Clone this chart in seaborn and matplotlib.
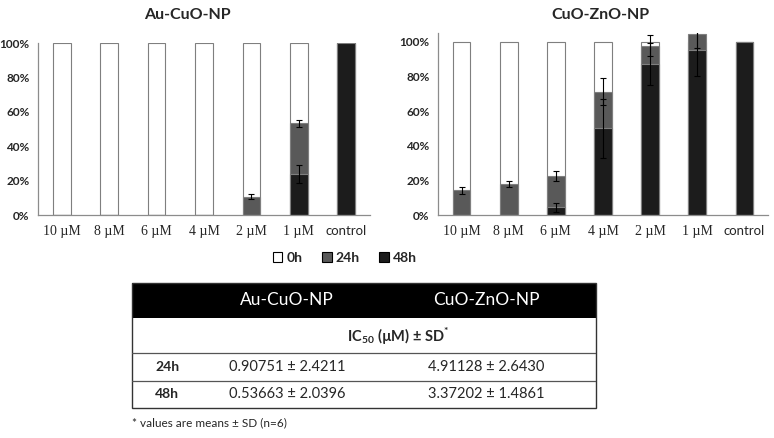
import matplotlib
matplotlib.use("Agg")
import matplotlib.pyplot as plt
from matplotlib.patches import Patch, Rectangle
from matplotlib.ticker import FuncFormatter
import numpy as np
import pandas as pd
import seaborn as sns

# concentrations on the x axis
conc = ["10 \u00b5M", "8 \u00b5M", "6 \u00b5M", "4 \u00b5M", "2 \u00b5M", "1 \u00b5M", "control"]

# Au-CuO-NP, % of cells (bars overlap, not stacked)
au_0h = [100, 100, 100, 100, 100, 100, 100]
au_24h = [0, 0, 0, 0, 10.6, 53.2, 100]
au_24h_sd = [0, 0, 0, 0, 1.5, 2.1, 0]
au_48h = [0, 0, 0, 0, 0, 23.8, 100]
au_48h_sd = [0, 0, 0, 0, 0, 5.0, 0]

# CuO-ZnO-NP
zn_0h = [100, 100, 100, 100, 100, 100, 100]
zn_24h = [14.2, 17.7, 22.5, 71.2, 97.7, 104.6, 100]
zn_24h_sd = [2.2, 1.7, 2.7, 7.6, 6.0, 8.5, 0]
zn_48h = [0, 0, 4.4, 50.0, 87.0, 95.0, 100]
zn_48h_sd = [0, 0, 2.5, 17.0, 12.0, 15.0, 0]

# IC50 table
tbl_cols = ["Au-CuO-NP", "CuO-ZnO-NP"]
tbl_rows = ["24h", "48h"]
tbl_vals = [["0.90751 \u00b1 2.4211", "4.91128 \u00b1 2.6430"],
            ["0.53663 \u00b1 2.0396", "3.37202 \u00b1 1.4861"]]

series = ["0h", "24h", "48h"]
colors = {"0h": "#ffffff", "24h": "#595959", "48h": "#1c1c1c"}

sns.set_style("white")
plt.rcParams["font.family"] = ["Lato", "DejaVu Sans"]
plt.rcParams["mathtext.fontset"] = "custom"
plt.rcParams["mathtext.rm"] = "Lato:bold"
plt.rcParams["mathtext.bf"] = "Lato:bold"

W, H = 774, 438
fig = plt.figure(figsize=(W / 100, H / 100), dpi=100)


def px(x0, y0, x1, y1):
    return [x0 / W, 1 - y1 / H, (x1 - x0) / W, (y1 - y0) / H]


def panel(ax, v0, v24, s24, v48, s48, top, title, tx):
    df = pd.DataFrame({"conc": conc, "0h": v0, "24h": v24, "48h": v48})
    for s in series:
        sns.barplot(data=df, x="conc", y=s, order=conc, ax=ax, width=0.375,
                    color=colors[s], edgecolor="#7f7f7f", linewidth=0.8,
                    saturation=1, errorbar=None)
    xs = np.arange(len(conc))
    for vals, sds in [(v24, s24), (v48, s48)]:
        vals = np.array(vals, float)
        sds = np.array(sds, float)
        m = sds > 0
        ax.errorbar(xs[m], vals[m], yerr=sds[m], fmt="none", ecolor="black",
                    elinewidth=0.8, capsize=2, capthick=0.8)
    ax.set_xlim(-0.5, len(conc) - 0.5)
    ax.set_ylim(0, top)
    ax.set_yticks([0, 20, 40, 60, 80, 100])
    ax.yaxis.set_major_formatter(FuncFormatter(lambda v, p: f"{int(v)}%"))
    ax.set_xlabel("")
    ax.set_ylabel("")
    ax.tick_params(length=0)
    ax.tick_params(axis="y", pad=6)
    ax.tick_params(axis="x", pad=7)
    for lab in ax.get_yticklabels():
        lab.set_fontweight("bold")
        lab.set_fontsize(8.5)
    for lab in ax.get_xticklabels():
        if lab.get_text() == "control":
            lab.set_fontsize(9.5)
        else:
            lab.set_family("Liberation Serif")
            lab.set_fontsize(10)
    for side in ["top", "right"]:
        ax.spines[side].set_visible(False)
    for side in ["left", "bottom"]:
        ax.spines[side].set_color("#8c8c8c")
        ax.spines[side].set_linewidth(0.9)
    fig.text(tx / W, 1 - 15 / H, title, ha="center", va="center",
             fontsize=11.5, fontweight="bold")


ax1 = fig.add_axes(px(38, 43, 370, 215))
panel(ax1, au_0h, au_24h, au_24h_sd, au_48h, au_48h_sd, 100, "Au-CuO-NP", 187)
ax2 = fig.add_axes(px(438, 33, 768, 215))
panel(ax2, zn_0h, zn_24h, zn_24h_sd, zn_48h, zn_48h_sd, 105, "CuO-ZnO-NP", 600)

handles = [Patch(facecolor=colors[s], edgecolor="black", linewidth=0.8) for s in series]
fig.legend(handles, series, loc="center", bbox_to_anchor=(345 / W, 1 - 258 / H),
           ncol=3, frameon=False, handlelength=0.7, handleheight=0.7,
           columnspacing=1.4, handletextpad=0.3,
           prop={"weight": "bold", "size": 10})

# table
tx0, tx1 = 132, 596
rows_y = [283, 318, 353, 381, 408]
axt = fig.add_axes(px(tx0, rows_y[0], tx1, rows_y[-1]))
axt.set_xlim(tx0, tx1)
axt.set_ylim(rows_y[-1], rows_y[0])
axt.axis("off")
axt.add_patch(Rectangle((tx0, rows_y[0]), tx1 - tx0, rows_y[1] - rows_y[0],
                        facecolor="black", edgecolor="none"))
axt.add_patch(Rectangle((tx0, rows_y[0]), tx1 - tx0, rows_y[-1] - rows_y[0],
                        facecolor="none", edgecolor="#333333", linewidth=1.0,
                        clip_on=False))
for yy in rows_y[2:-1]:
    axt.plot([tx0, tx1], [yy, yy], color="#555555", linewidth=0.9)
col_x = [287, 486]
for cx, name in zip(col_x, tbl_cols):
    axt.text(cx, (rows_y[0] + rows_y[1]) / 2, name, color="white", ha="center",
             va="center", fontsize=12.5)
axt.text(398, (rows_y[1] + rows_y[2]) / 2, "IC$_{50}$ (\u00b5M) \u00b1 SD$^{*}$",
         ha="center", va="center", fontsize=10.5, fontweight="bold")
for i, (rname, vals) in enumerate(zip(tbl_rows, tbl_vals)):
    yc = (rows_y[2 + i] + rows_y[3 + i]) / 2
    axt.text(155, yc, rname, ha="left", va="center", fontsize=10, fontweight="bold")
    for cx, v in zip(col_x, vals):
        axt.text(cx, yc, v, ha="center", va="center", fontsize=10.5)

fig.text(tx0 / W, 1 - 423 / H, "* values are means \u00b1 SD (n=6)",
         ha="left", va="center", fontsize=8.5)

fig.savefig("out.png", dpi=100)
